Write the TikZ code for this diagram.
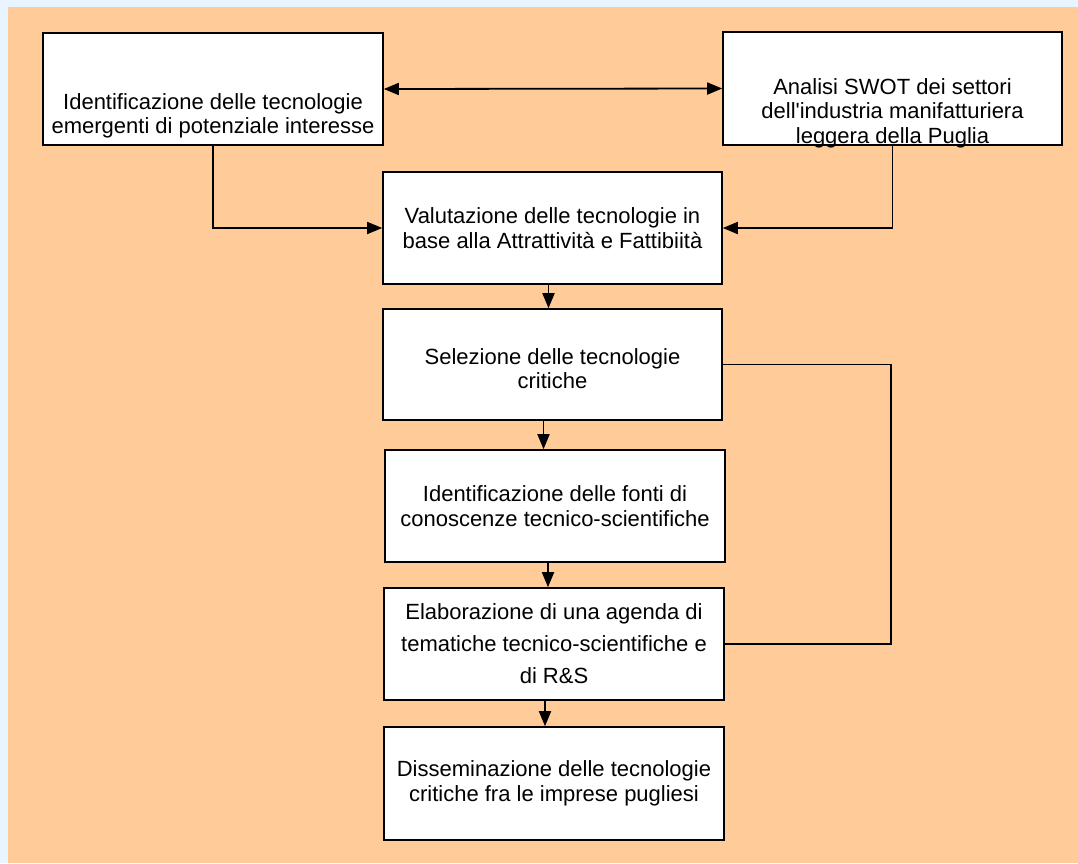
\documentclass[tikz,border=0pt]{standalone}
\usepackage{fontspec}
\setmainfont{Liberation Sans}
\usetikzlibrary{arrows.meta,calc}
\definecolor{bgorange}{HTML}{FFCC99}
\definecolor{bgblue}{HTML}{E8F4FF}
\tikzset{
  boxtext/.style={align=center, inner sep=0pt, font=\fontsize{22}{24.5}\selectfont},
  stepbox/.style={boxtext, draw=black, line width=1.6pt, fill=white, minimum width=340pt, minimum height=112pt},
  conn/.style={line width=1.8pt, draw=black},
  tip/.style={-{Triangle[length=15pt,width=12pt]}},
}
\begin{document}
\begin{tikzpicture}[x=1pt,y=-1pt]
\useasboundingbox (0,0) rectangle (1078,863);
\fill[bgblue] (0,0) rectangle (1078,863);
\fill[bgorange] (8,7) rectangle (1078,863);
\node[stepbox] (A) at (213,89) {};
\node[boxtext] (At) at ([yshift=-27pt]A.center) {Identificazione delle tecnologie\\emergenti di potenziale interesse};
\node[stepbox, minimum width=339pt, minimum height=113pt] (B) at (892.5,88.5) {};
\node[boxtext] (Bt) at ([yshift=-24.5pt]B.center) {Analisi SWOT dei settori\\dell\textquotesingle industria manifatturiera\\leggera della Puglia};
\node[stepbox, minimum width=339pt] (C) at (552.5,228) {Valutazione delle tecnologie in\\base alla Attrattività e Fattibiità};
\node[stepbox, minimum width=339pt, minimum height=111pt] (D) at (552.5,364.5) {};
\node[boxtext] (Dt) at ([yshift=-4pt]D.center) {Selezione delle tecnologie\\critiche};
\node[stepbox] (E) at (555,506) {Identificazione delle fonti di\\conoscenze tecnico-scientifiche};
\node[stepbox] (F) at (554,644) {Elaborazione di una agenda di\\[7.5pt]tematiche tecnico-scientifiche e\\[7.5pt]di R\&S};
\node[stepbox, minimum height=113pt] (G) at (554,783.5) {Disseminazione delle tecnologie\\critiche fra le imprese pugliesi};
\draw[conn, {Triangle[length=15pt,width=12pt]}-{Triangle[length=15pt,width=12pt]}] (A.east) -- (B.west);
\draw[conn, tip] (A.south) |- (C.west);
\draw[conn, tip] (B.south) |- (C.east);
\coordinate (cd) at ([xshift=-4pt]C.south);
\draw[conn, tip] (cd) -- (cd |- D.north);
\coordinate (de) at ([xshift=-9pt]D.south);
\draw[conn, tip] (de) -- (de |- E.north);
\coordinate (ef) at ([xshift=-7pt]E.south);
\draw[conn, tip] (ef) -- (ef |- F.north);
\coordinate (fg) at ([xshift=-9pt]F.south);
\draw[conn, tip] (fg) -- (fg |- G.north);
\coordinate (k) at ([xshift=168pt]D.east);
\draw[conn] (D.east) -- (k) |- (F.east);
\end{tikzpicture}
\end{document}
